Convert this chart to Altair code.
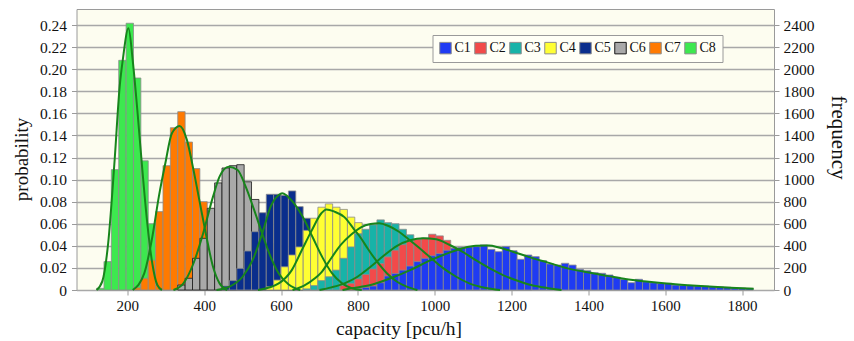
import altair as alt
import pandas as pd

CATS = ["C1", "C2", "C3", "C4", "C5", "C6", "C7", "C8"]
FILLS = ["#1F3BF2", "#F24A4A", "#17B3A8", "#FFFF33", "#0A2E8C", "#A9A9A9", "#FF7A00", "#3DE84F"]
STROKES = ["#8C8C8C", "#8C8C8C", "#8C8C8C", "#8C8C8C", "#8C8C8C", "#1A1A1A", "#8C8C8C", "#8C8C8C"]

# histogram bins (capacity, pcu/h)
BIN_START = 120.0
BIN_WIDTH = 19.2

# first bin index and probabilities of each histogram
FIRST = {"C1": 35, "C2": 33, "C3": 28, "C4": 23, "C5": 17, "C6": 11, "C7": 5, "C8": 0}
C1_P = [0.0015, 0.0024, 0.0036, 0.0066, 0.0127, 0.015, 0.018, 0.0217, 0.0257, 0.0287,
        0.031, 0.033, 0.036, 0.0378, 0.0387, 0.039, 0.0393, 0.0408, 0.0368, 0.0347,
        0.0393, 0.0356, 0.0278, 0.0317, 0.0302, 0.0266, 0.0236, 0.0226, 0.0242, 0.0226,
        0.0187, 0.0175, 0.0157, 0.0151, 0.0136, 0.0115, 0.0097, 0.0066, 0.0097, 0.0075,
        0.0066, 0.006, 0.006, 0.0045, 0.0042, 0.004, 0.0036, 0.0035, 0.003, 0.0028,
        0.0025, 0.002, 0.0018, 0.0015]
C2_P = [0.004, 0.006, 0.010, 0.014, 0.019, 0.024, 0.030, 0.036, 0.041, 0.044,
        0.046, 0.047, 0.0505, 0.049, 0.045, 0.038, 0.033, 0.029, 0.025, 0.020,
        0.016, 0.012, 0.009, 0.006, 0.004, 0.002]
C3_P = [0.001, 0.004, 0.0085, 0.012, 0.018, 0.0287, 0.039, 0.051, 0.055, 0.059,
        0.0635, 0.061, 0.060, 0.055, 0.050, 0.043, 0.036, 0.029, 0.022, 0.016,
        0.011, 0.007, 0.004, 0.002]
C4_P = [0.003, 0.009, 0.021, 0.0317, 0.039, 0.054, 0.065, 0.075, 0.078, 0.075,
        0.073, 0.066, 0.061, 0.050, 0.040, 0.030, 0.020, 0.012, 0.006, 0.003]
C5_P = [0.0036, 0.0085, 0.0196, 0.0353, 0.0528, 0.070, 0.0867, 0.0867, 0.0857, 0.0897,
        0.0755, 0.065, 0.050, 0.037, 0.025, 0.015, 0.008, 0.004, 0.002]
C6_P = [0.0045, 0.0106, 0.0287, 0.0468, 0.074, 0.097, 0.1105, 0.1126, 0.1135, 0.098,
        0.082, 0.062, 0.042, 0.026, 0.014, 0.006, 0.002]
C7_P = [0.002, 0.0106, 0.027, 0.071, 0.1126, 0.147, 0.1615, 0.134, 0.110, 0.080,
        0.052, 0.028, 0.012, 0.004]
C8_P = [0.0015, 0.0257, 0.109, 0.208, 0.2416, 0.192, 0.117, 0.060, 0.025, 0.006]
PROBS = {"C1": C1_P, "C2": C2_P, "C3": C3_P, "C4": C4_P,
         "C5": C5_P, "C6": C6_P, "C7": C7_P, "C8": C8_P}

# fitted density curves (capacity, probability)
C1_CX = [760, 782, 833, 885, 936, 987, 1038, 1073, 1107, 1141, 1167, 1192, 1244, 1295,
         1346, 1397, 1449, 1500, 1551, 1603, 1660, 1714, 1770, 1830]
C1_CP = [0, 0.0015, 0.0045, 0.0106, 0.018, 0.0266, 0.0338, 0.0378, 0.040, 0.0402, 0.0385,
         0.036, 0.030, 0.0248, 0.0196, 0.016, 0.0128, 0.0098, 0.0076, 0.0058, 0.0043,
         0.0031, 0.0021, 0.0012]
C2_CX = [700, 731, 765, 799, 833, 867, 902, 936, 970, 1004, 1038, 1073, 1107, 1141, 1175,
         1210, 1245, 1280, 1330]
C2_CP = [0, 0.0024, 0.006, 0.012, 0.021, 0.031, 0.040, 0.045, 0.0468, 0.046, 0.041,
         0.0345, 0.027, 0.020, 0.014, 0.009, 0.005, 0.0025, 0]
C3_CX = [630, 660, 690, 705, 731, 756, 782, 808, 833, 855, 880, 906, 932, 957, 987, 1021,
         1056, 1090, 1130, 1170]
C3_CP = [0, 0.004, 0.011, 0.016, 0.029, 0.041, 0.050, 0.0568, 0.0598, 0.0605, 0.058,
         0.053, 0.046, 0.039, 0.030, 0.020, 0.012, 0.006, 0.002, 0]
C4_CX = [540, 594, 628, 654, 680, 705, 718, 739, 765, 790, 810, 825, 850, 876, 902, 927, 955]
C4_CP = [0, 0.006, 0.018, 0.036, 0.054, 0.0695, 0.073, 0.071, 0.066, 0.055, 0.046, 0.0378,
         0.0257, 0.015, 0.0075, 0.003, 0]
C5_CX = [432, 466, 500, 526, 551, 573, 594, 603, 630, 656, 682, 707, 733, 759, 785, 810]
C5_CP = [0, 0.003, 0.012, 0.027, 0.051, 0.0755, 0.086, 0.0876, 0.080, 0.0665, 0.048,
         0.030, 0.015, 0.006, 0.0015, 0]
C6_CX = [320, 346, 372, 397, 423, 440, 464, 487, 508, 530, 551, 573, 594, 620, 650]
C6_CP = [0, 0.006, 0.024, 0.051, 0.0846, 0.1027, 0.1117, 0.1087, 0.0936, 0.0725, 0.051,
         0.030, 0.015, 0.005, 0]
C7_CX = [214, 244, 265, 282, 299, 316, 336, 355, 372, 389, 406, 423, 440, 460]
C7_CP = [0, 0.0151, 0.048, 0.0846, 0.115, 0.142, 0.1486, 0.136, 0.109, 0.0785, 0.048,
         0.021, 0.006, 0]
C8_CX = [120, 135, 150, 167, 180, 188, 203, 214, 226, 239, 252, 265, 278, 290]
C8_CP = [0, 0.008, 0.042, 0.118, 0.184, 0.208, 0.237, 0.208, 0.163, 0.109, 0.060, 0.024,
         0.0045, 0]
CURVES = {"C1": (C1_CX, C1_CP), "C2": (C2_CX, C2_CP), "C3": (C3_CX, C3_CP),
          "C4": (C4_CX, C4_CP), "C5": (C5_CX, C5_CP), "C6": (C6_CX, C6_CP),
          "C7": (C7_CX, C7_CP), "C8": (C8_CX, C8_CP)}

X_TICKS = [200, 400, 600, 800, 1000, 1200, 1400, 1600, 1800]
Y_TICKS = [0, 0.02, 0.04, 0.06, 0.08, 0.10, 0.12, 0.14, 0.16, 0.18, 0.20, 0.22, 0.24]

# build tables (C8 drawn first / at the back, C1 last / in front)
bar_rows = []
for cat in reversed(CATS):
    for i, p in enumerate(PROBS[cat]):
        k = FIRST[cat] + i
        x0 = BIN_START + BIN_WIDTH * k
        bar_rows.append({"cat": cat, "x0": x0, "x1": x0 + BIN_WIDTH, "p": p})
bars_df = pd.DataFrame(bar_rows)

curve_rows = []
for cat in reversed(CATS):
    xs, ps = CURVES[cat]
    for i, (x, p) in enumerate(zip(xs, ps)):
        curve_rows.append({"cat": cat, "x0": x, "p": p, "i": i})
curve_df = pd.DataFrame(curve_rows)

FONT = "Liberation Serif, Times New Roman, serif"
xscale = alt.Scale(domain=[80.7, 1870], nice=False, zero=False)
yscale = alt.Scale(domain=[0, 0.2545], nice=False, zero=True)

xaxis = alt.Axis(
    values=X_TICKS, format="d", title="capacity [pcu/h]", grid=False, domain=False,
    tickSize=5, tickColor="#9A9A9A", labelFont=FONT, labelFontSize=15,
    labelColor="#111", labelPadding=3, titleFont=FONT, titleFontSize=19.5,
    titleFontWeight="normal", titleColor="#111", titleX=322, titleY=44,
    titleBaseline="alphabetic", titleAlign="center")

legend = alt.Legend(
    title=None, orient="none", legendX=356, legendY=26, direction="horizontal",
    columns=8, symbolType="square", symbolSize=132, symbolStrokeWidth=1,
    labelFont=FONT, labelFontSize=14, labelColor="#111", labelOffset=2,
    columnPadding=1, padding=6, fillColor="#FFFFF6", strokeColor="#9A9A9A",
)

bars = alt.Chart(bars_df).mark_bar(strokeWidth=0.8, orient="vertical").encode(
    x=alt.X("x0:Q", scale=xscale, axis=xaxis),
    x2="x1:Q",
    y=alt.Y("p:Q", scale=yscale, stack=None, axis=alt.Axis(
        values=Y_TICKS, title="probability", grid=True, gridColor="#A8A8A8",
        gridWidth=1.3, domain=False, tickSize=5, tickColor="#9A9A9A",
        labelFont=FONT, labelFontSize=15.5, labelColor="#111", labelPadding=5,
        labelExpr="datum.value == 0 ? '0' : format(datum.value, '.2f')",
        titleFont=FONT, titleFontSize=19, titleFontWeight="normal", titleColor="#111",
        titleX=-55, titleY=150, titleBaseline="middle", titleAlign="center")),
    color=alt.Color("cat:N", scale=alt.Scale(domain=CATS, range=FILLS), legend=legend),
    stroke=alt.Stroke("cat:N", scale=alt.Scale(domain=CATS, range=STROKES), legend=legend),
)

lines = alt.Chart(curve_df).mark_line(
    color="#17851B", strokeWidth=2, interpolate="monotone"
).encode(
    x=alt.X("x0:Q", scale=xscale, axis=xaxis),
    y=alt.Y("p:Q", scale=yscale, axis=None),
    detail="cat:N",
    order="i:Q",
)

right = alt.Chart(curve_df).mark_point(opacity=0).encode(
    x=alt.X("x0:Q", scale=xscale, axis=xaxis),
    y=alt.Y("p:Q", scale=yscale, axis=alt.Axis(
        orient="right", values=Y_TICKS, title="frequency", grid=False, domain=False,
        tickSize=5, tickColor="#9A9A9A", labelFont=FONT, labelFontSize=15.5,
        labelColor="#111", labelPadding=4,
        labelExpr="format(datum.value * 10000, 'd')",
        titleFont=FONT, titleFontSize=21, titleFontWeight="normal", titleColor="#111",
        titleX=63, titleY=128, titleBaseline="middle", titleAlign="center", titleAngle=90)),
)

chart = alt.layer(bars, lines, right).resolve_scale(y="independent").properties(
    width=697.5, height=281,
    autosize=alt.AutoSizeParams(type="none"),
    padding={"left": 76.5, "top": 9, "right": 80, "bottom": 51},
    background="white",
).configure_view(fill="#FDFDF0", stroke="#9A9A9A", strokeWidth=1)

chart.save("out.html", embed_options={"renderer": "svg", "actions": False})
